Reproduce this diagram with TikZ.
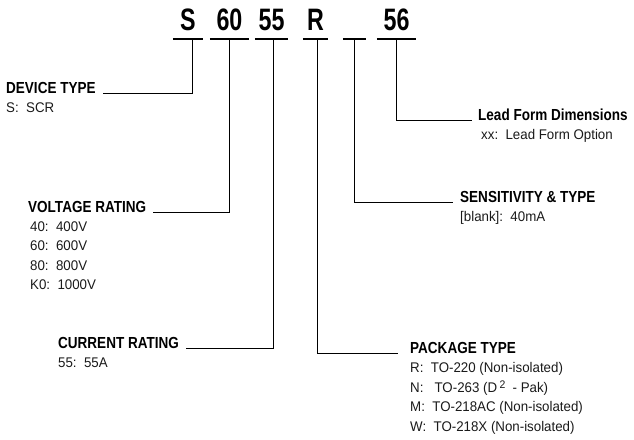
\documentclass[tikz,border=0pt]{standalone}
\usepackage{fontspec}
\usepackage{tikz}
\usetikzlibrary{positioning,calc}
\newfontfamily\codesans[FakeStretch=0.75]{Liberation Sans}
\newfontfamily\headsans[FakeStretch=0.845]{Liberation Sans}
\newfontfamily\bodysans[FakeStretch=0.95]{Liberation Sans}
\definecolor{Ink}{HTML}{000000}
\definecolor{BodyInk}{HTML}{1A1A1A}
\tikzset{
  code/.style={font=\codesans\bfseries\fontsize{31}{31}\selectfont,text=Ink,anchor=base,inner xsep=0pt,inner ysep=9pt,text depth=0pt},
  bar/.style={draw=Ink,line width=2pt},
  lead/.style={draw=Ink,line width=1pt,shorten >=7pt},
  head/.style={font=\headsans\bfseries\fontsize{16}{16}\selectfont,text=Ink,anchor=base west,inner sep=0pt},
  body/.style={font=\bodysans\fontsize{14}{19.5}\selectfont,text=BodyInk,align=left,anchor=north west,inner sep=0pt}
}
\begin{document}
\begin{tikzpicture}[x=1pt,y=-1pt]
\useasboundingbox (0,0) rectangle (634,439);
\node[code,minimum width=30pt] (cS) at (188,30) {S};
\node[code,minimum width=39pt] (cV) at (229.5,30) {60};
\node[code,minimum width=33pt] (cC) at (271.5,30) {55};
\node[code,minimum width=25pt] (cP) at (315.5,30) {R};
\node[code,minimum width=23pt] (cX) at (354.5,30) {};
\node[code,minimum width=39pt] (cL) at (396.5,30) {56};
\foreach \c in {cS,cV,cC,cP,cX,cL}
  \draw[bar] (\c.south west) -- (\c.south east);
\node[head] (hDev) at (6,93) {DEVICE TYPE};
\node[head] (hVolt) at (28,212) {VOLTAGE RATING};
\node[head] (hCur) at (58,348) {CURRENT RATING};
\node[head] (hPkg) at (410,353) {PACKAGE TYPE};
\node[head] (hSen) at (460,202) {SENSITIVITY \& TYPE};
\node[head] (hLead) at (478,120) {Lead Form Dimensions};
\node[body] (bDev) at ([yshift=-9.5pt]hDev.base west) {S:\ \ SCR};
\node[body] (bVolt) at ([xshift=2pt,yshift=-9.5pt]hVolt.base west)
  {40:\ \ 400V\\60:\ \ 600V\\80:\ \ 800V\\K0:\ \ 1000V};
\node[body] (bCur) at ([yshift=-9.5pt]hCur.base west) {55:\ \ 55A};
\node[body] (bPkg) at ([yshift=-9.5pt]hPkg.base west)
  {R:\ \ TO-220 (Non-isolated)\\
   N:\ \ \ TO-263 (D\,\raisebox{0.5ex}{\fontsize{11}{11}\selectfont 2}\ \ - Pak)\\
   M:\ \ TO-218AC (Non-isolated)\\
   W:\ \ TO-218X (Non-isolated)};
\node[body] (bSen) at ([yshift=-9.5pt]hSen.base west) {[blank]:\ \ 40mA};
\node[body] (bLead) at ([xshift=3pt,yshift=-9.5pt]hLead.base west) {xx:\ \ Lead Form Option};
\draw[lead] ([xshift=4pt]cS.south) |- (hDev.base east);
\draw[lead] (cV.south) |- (hVolt.base east);
\draw[lead] ([xshift=1.5pt]cC.south) |- (hCur.base east);
\draw[lead,shorten >=12pt] ([xshift=1.5pt]cP.south) |- (hPkg.base west);
\draw[lead] (cX.south) |- (hSen.base west);
\draw[lead,shorten >=6pt] (cL.south) |- (hLead.base west);
\end{tikzpicture}
\end{document}
